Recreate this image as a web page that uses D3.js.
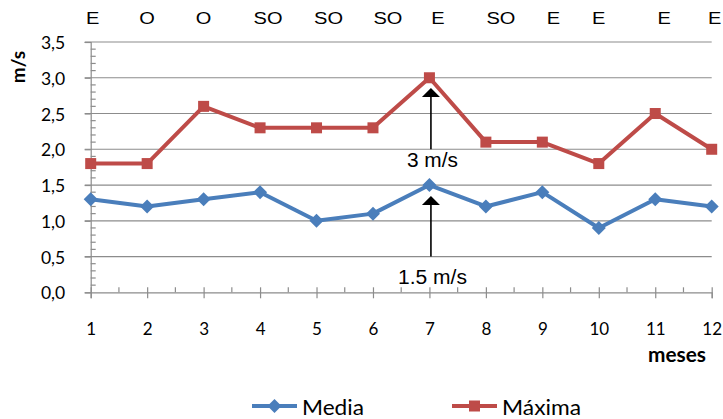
<!DOCTYPE html>
<html><head><meta charset="utf-8">
<script src="https://cdn.jsdelivr.net/npm/d3@7"></script>
<style>
html,body{margin:0;padding:0;background:#fff;}
svg{display:block;}
</style></head>
<body>
<script>
// ---- data ----
const months = [1,2,3,4,5,6,7,8,9,10,11,12];
const media  = [1.3,1.2,1.3,1.4,1.0,1.1,1.5,1.2,1.4,0.9,1.3,1.2];
const maxima = [1.8,1.8,2.6,2.3,2.3,2.3,3.0,2.1,2.1,1.8,2.5,2.0];
const directions = ["E","O","O","SO","SO","SO","E","SO","E","E","E","E"];
const yTicks = [0,0.5,1.0,1.5,2.0,2.5,3.0,3.5];
const seriesNames = ["Media","Máxima"];
const annotations = [{month:7, value:3.0, text:"3 m/s"},{month:7, value:1.5, text:"1.5 m/s"}];

// ---- layout ----
const W = 723, H = 419;
const mLeft = 90.7, mRight = 711.7, mTop = 42, mBottom = 292.3;
const blue = "#4a7ebb", red = "#be4b48", grid = "#8c8c8c";
const calibri = "Lato, 'Open Sans', sans-serif";
const arial = "'Liberation Sans', Arial, sans-serif";

const svg = d3.select("body").append("svg").attr("width", W).attr("height", H);

const x = d3.scaleLinear().domain([1, 12]).range([mLeft, mRight]);
const y = d3.scaleLinear().domain([0, 3.5]).range([mBottom, mTop]);

// gridlines
svg.append("g").selectAll("line").data(yTicks.filter(d => d > 0)).join("line")
  .attr("x1", mLeft - 6).attr("x2", mRight)
  .attr("y1", d => y(d)).attr("y2", d => y(d))
  .attr("stroke", grid).attr("stroke-width", 1.2);

// y axis with minor ticks inside
const yAxis = d3.axisLeft(y).tickValues(yTicks).tickSize(6).tickFormat(d => d3.format(".1f")(d).replace(".", ","));
const gy = svg.append("g").attr("transform", `translate(${mLeft},0)`).call(yAxis);
gy.select(".domain").attr("stroke", grid).attr("stroke-width", 1.2);
gy.selectAll(".tick line").attr("stroke", grid).attr("stroke-width", 1.2);
gy.selectAll(".tick text").attr("x", -25.5).attr("dy", "0.38em")
  .style("font-family", calibri).style("font-size", "17.5px").attr("fill", "#000");
const yMinor = d3.range(1, 35).map(i => i / 10).filter(v => Math.round(v * 10) % 5 !== 0);
svg.append("g").selectAll("line").data(yMinor).join("line")
  .attr("x1", mLeft).attr("x2", mLeft + 5)
  .attr("y1", d => y(d)).attr("y2", d => y(d))
  .attr("stroke", grid).attr("stroke-width", 1.2);

// x axis
const xAxis = d3.axisBottom(x).tickValues(months).tickSize(6).tickFormat(d3.format("d"));
const gx = svg.append("g").attr("transform", `translate(0,${mBottom})`).call(xAxis);
gx.select(".domain").attr("stroke", grid).attr("stroke-width", 1.2);
gx.selectAll(".tick line").attr("y1", -5).attr("y2", 6).attr("stroke", grid).attr("stroke-width", 1.2);
gx.selectAll(".tick text").attr("y", 42.7).attr("dy", 0)
  .style("font-family", calibri).style("font-size", "17px").attr("fill", "#000");
const xMinor = months.slice(0, -1).map(m => m + 0.5);
svg.append("g").selectAll("line").data(xMinor).join("line")
  .attr("x1", d => x(d)).attr("x2", d => x(d))
  .attr("y1", mBottom - 5).attr("y2", mBottom)
  .attr("stroke", grid).attr("stroke-width", 1.2);

// axis titles
svg.append("text").attr("transform", `translate(25,67) rotate(-90)`)
  .attr("text-anchor", "middle").style("font-family", calibri).style("font-weight", "bold")
  .style("font-size", "19px").text("m/s");
svg.append("text").attr("x", 706).attr("y", 361.5).attr("text-anchor", "end")
  .attr("textLength", 58).attr("lengthAdjust", "spacingAndGlyphs")
  .style("font-family", calibri).style("font-weight", "bold").style("font-size", "21px").text("meses");

// direction labels
const dirNudge = [2,0,0,8,12,15,8.5,15,11,0,9,3];
svg.append("g").selectAll("text").data(directions).join("text")
  .attr("transform", (d, i) => `translate(${x(months[i]) + dirNudge[i]},24) scale(1.18,1)`)
  .attr("text-anchor", "middle").style("font-family", arial).style("font-size", "17px")
  .text(d => d);

// lines
const line = d3.line().x((d, i) => x(months[i])).y(d => y(d));
svg.append("path").datum(maxima).attr("d", line).attr("fill", "none")
  .attr("stroke", red).attr("stroke-width", 4).attr("stroke-linejoin", "round");
svg.append("path").datum(media).attr("d", line).attr("fill", "none")
  .attr("stroke", blue).attr("stroke-width", 4).attr("stroke-linejoin", "round");

// markers
svg.append("g").selectAll("rect").data(maxima).join("rect")
  .attr("x", (d, i) => x(months[i]) - 5.5).attr("y", d => y(d) - 5.5)
  .attr("width", 11).attr("height", 11).attr("fill", red);
const diamond = "M0,-7L7,0L0,7L-7,0Z";
svg.append("g").selectAll("path").data(media).join("path")
  .attr("transform", (d, i) => `translate(${x(months[i])},${y(d)})`)
  .attr("d", diamond).attr("fill", blue);

// annotations
const ann = svg.append("g");
const arrowSpecs = [
  {a: annotations[0], tipOff: 10.3, lineEnd: 2.0, textY: 166.7, len: 51},
  {a: annotations[1], tipOff: 11, lineEnd: 0.5, textY: 284, len: 69}
];
arrowSpecs.forEach(s => {
  const ax = x(s.a.month) + 1.5;
  const tip = y(s.a.value) + s.tipOff;
  ann.append("line").attr("x1", ax).attr("x2", ax).attr("y1", tip + 8).attr("y2", y(s.lineEnd))
    .attr("stroke", "#000").attr("stroke-width", 1.6);
  ann.append("path").attr("d", `M${ax},${tip}L${ax + 9},${tip + 9}L${ax - 9},${tip + 9}Z`).attr("fill", "#000");
  ann.append("text").attr("x", ax + 1.5).attr("y", s.textY).attr("text-anchor", "middle")
    .attr("textLength", s.len).attr("lengthAdjust", "spacingAndGlyphs")
    .style("font-family", arial).style("font-size", "20px").text(s.a.text);
});

// legend
const legendItems = [
  {name: seriesNames[0], color: blue, x0: 252, shape: "diamond", len: 62},
  {name: seriesNames[1], color: red, x0: 452, shape: "square", len: 79}
];
const lg = svg.append("g");
legendItems.forEach(it => {
  const g = lg.append("g");
  g.append("line").attr("x1", it.x0).attr("x2", it.x0 + 45).attr("y1", 406).attr("y2", 406)
    .attr("stroke", it.color).attr("stroke-width", 4);
  if (it.shape === "diamond") {
    g.append("path").attr("transform", `translate(${it.x0 + 22.5},406)`).attr("d", diamond).attr("fill", it.color);
  } else {
    g.append("rect").attr("x", it.x0 + 17).attr("y", 400.5).attr("width", 11).attr("height", 11).attr("fill", it.color);
  }
  g.append("text").attr("x", it.x0 + 50).attr("y", 415).style("font-family", calibri)
    .attr("textLength", it.len).attr("lengthAdjust", "spacingAndGlyphs")
    .style("font-size", "22px").text(it.name);
});
</script>
</body></html>
